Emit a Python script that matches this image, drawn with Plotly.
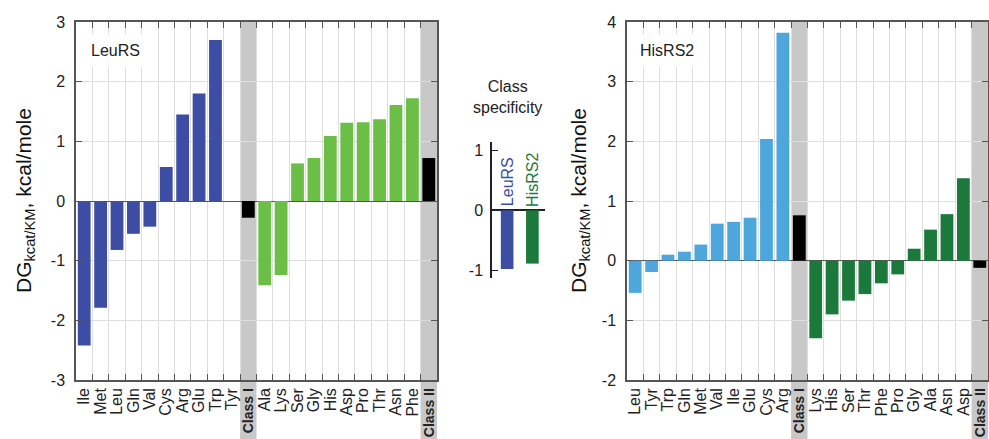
import plotly.graph_objects as go

# ---------------- data ----------------
leurs_class1 = ["Ile", "Met", "Leu", "Gln", "Val", "Cys", "Arg", "Glu", "Trp", "Tyr"]
leurs_class1_vals = [-2.42, -1.79, -0.82, -0.55, -0.43, 0.57, 1.45, 1.80, 2.70, 0.0]
leurs_class1_mean = -0.28
leurs_class2 = ["Ala", "Lys", "Ser", "Gly", "His", "Asp", "Pro", "Thr", "Asn", "Phe"]
leurs_class2_vals = [-1.41, -1.24, 0.63, 0.72, 1.09, 1.31, 1.32, 1.37, 1.61, 1.72]
leurs_class2_mean = 0.72

hisrs_class1 = ["Leu", "Tyr", "Trp", "Gln", "Met", "Val", "Ile", "Glu", "Cys", "Arg"]
hisrs_class1_vals = [-0.54, -0.19, 0.10, 0.15, 0.27, 0.62, 0.65, 0.72, 2.04, 3.82]
hisrs_class1_mean = 0.76
hisrs_class2 = ["Lys", "His", "Ser", "Thr", "Phe", "Pro", "Gly", "Ala", "Asn", "Asp"]
hisrs_class2_vals = [-1.30, -0.90, -0.67, -0.56, -0.38, -0.23, 0.20, 0.52, 0.78, 1.38]
hisrs_class2_mean = -0.12

spec_names = ["LeuRS", "HisRS2"]
spec_vals = [-0.98, -0.89]

left_ticks = [-3, -2, -1, 0, 1, 2, 3]
right_ticks = [-2, -1, 0, 1, 2, 3, 4]
spec_ticks = [-1, 0, 1]

# ---------------- style ----------------
FONT = "Liberation Sans, Arial, sans-serif"
C_BLUE = "#3c4da3"
C_GREEN = "#6bbf46"
C_LBLUE = "#4ea7dc"
C_DGREEN = "#1b7a3b"
C_BAND = "#c8c8c8"
C_AX = "#555555"
C_GRID = "#dedede"

W, H = 989, 439
def px_x(p):
    return p / W
def px_y(p):
    return 1 - p / H

PT = px_y(22)      # plot top
PB = px_y(380)     # plot bottom


def bold(c):
    return f"<span style='font-size:14px'><b>{c}</b></span>"


def build(c1, v1, m1, c2, v2, m2, col1, col2):
    cats = c1 + [bold("Class I")] + c2 + [bold("Class II")]
    vals = v1 + [m1] + v2 + [m2]
    cols = [col1] * len(c1) + ["#000000"] + [col2] * len(c2) + ["#000000"]
    return cats, vals, cols


lc, lv, lcol = build(leurs_class1, leurs_class1_vals, leurs_class1_mean,
                     leurs_class2, leurs_class2_vals, leurs_class2_mean, C_BLUE, C_GREEN)
rc, rv, rcol = build(hisrs_class1, hisrs_class1_vals, hisrs_class1_mean,
                     hisrs_class2, hisrs_class2_vals, hisrs_class2_mean, C_LBLUE, C_DGREEN)

fig = go.Figure()
fig.add_trace(go.Bar(x=lc, y=lv, marker=dict(color=lcol, line=dict(width=0)),
                     width=0.78, xaxis="x", yaxis="y", showlegend=False))
fig.add_trace(go.Bar(x=rc, y=rv, marker=dict(color=rcol, line=dict(width=0)),
                     width=0.78, xaxis="x2", yaxis="y2", showlegend=False))
fig.add_trace(go.Bar(x=spec_names, y=spec_vals,
                     marker=dict(color=[C_BLUE, C_DGREEN], line=dict(width=0)),
                     width=0.5, xaxis="x3", yaxis="y3", showlegend=False))

xcommon = dict(type="category", tickson="boundaries", tickmode="linear", tick0=0, dtick=1,
               showgrid=True, gridcolor=C_GRID, automargin=False, ticklabeloverflow="allow",
               gridwidth=1, ticks="inside", ticklen=6, tickcolor=C_AX, mirror="ticks",
               showline=True, linecolor=C_AX, linewidth=1.5, tickangle=-90,
               tickfont=dict(family=FONT, size=16, color="#222"))
ycommon = dict(showgrid=True, gridcolor=C_GRID, gridwidth=1, ticks="inside",
               ticklen=6, tickcolor=C_AX, mirror="ticks", showline=True, linecolor=C_AX,
               linewidth=1.5, zeroline=True, zerolinecolor=C_AX, zerolinewidth=1.2,
               ticklabelstandoff=6, tickmode="array", automargin=False,
               tickfont=dict(family=FONT, size=16, color="#222"))

fig.update_layout(
    width=W, height=H, margin=dict(l=0, r=0, t=0, b=0, autoexpand=False),
    paper_bgcolor="white", plot_bgcolor="white", bargap=0.2,
    xaxis=dict(xcommon, domain=[px_x(76), px_x(437)], anchor="y",
               categoryorder="array", categoryarray=lc, range=[-0.5, 21.5]),
    yaxis=dict(ycommon, domain=[PB, PT], anchor="x", range=[-3, 3], tickvals=left_ticks,
               ticktext=[str(t) for t in left_ticks]),
    xaxis2=dict(xcommon, domain=[px_x(627), px_x(988)], anchor="y2",
                categoryorder="array", categoryarray=rc, range=[-0.5, 21.5]),
    yaxis2=dict(ycommon, domain=[PB, PT], anchor="x2", range=[-2, 4], tickvals=right_ticks,
                ticktext=[str(t) for t in right_ticks]),
    xaxis3=dict(domain=[px_x(492), px_x(545)], anchor="y3", type="category",
                showticklabels=False, showline=False, showgrid=False, ticks="",
                range=[-0.6, 1.5], automargin=False),
    yaxis3=dict(domain=[px_y(278), px_y(142)], anchor="x3", range=[-1.13, 1.14],
                tickmode="array", tickvals=spec_ticks, ticktext=[str(t) for t in spec_ticks],
                showgrid=False, showline=True, linecolor="#222", automargin=False,
                linewidth=1.5, ticks="inside", ticklen=6, tickcolor="#222",
                zeroline=True, zerolinecolor="#222", zerolinewidth=1.5, ticklabelstandoff=4,
                tickfont=dict(family=FONT, size=16, color="#222")),
)

shapes = []
for xa, idx in (("x", 10), ("x", 21), ("x2", 10), ("x2", 21)):
    shapes.append(dict(type="rect", xref=xa, yref="paper", x0=idx - 0.5, x1=idx + 0.5,
                       y0=0, y1=PT, fillcolor=C_BAND, line=dict(width=0), layer="below"))
fig.update_layout(shapes=shapes)

ann = []
ann.append(dict(text="LeuRS", xref="paper", yref="paper", x=px_x(115), y=px_y(50),
                xanchor="center", yanchor="middle",
                showarrow=False, font=dict(family=FONT, size=16, color="#222"),
                bgcolor="white", borderpad=7))
ann.append(dict(text="HisRS2", xref="paper", yref="paper", x=px_x(667), y=px_y(50),
                xanchor="center", yanchor="middle",
                showarrow=False, font=dict(family=FONT, size=16, color="#222"),
                bgcolor="white", borderpad=7))
title = "DG<sub>kcat/KM</sub>, kcal/mole"
ann.append(dict(text=title, xref="paper", yref="paper", x=px_x(25), y=px_y(201),
                xanchor="center", yanchor="middle",
                textangle=-90, showarrow=False, font=dict(family=FONT, size=21, color="#111")))
ann.append(dict(text=title, xref="paper", yref="paper", x=px_x(580), y=px_y(201),
                xanchor="center", yanchor="middle",
                textangle=-90, showarrow=False, font=dict(family=FONT, size=21, color="#111")))
ann.append(dict(text="Class<br>specificity", xref="paper", yref="paper", x=px_x(508),
                y=px_y(97), xanchor="center", yanchor="middle", showarrow=False,
                font=dict(family=FONT, size=16, color="#222")))
for name, colr in zip(spec_names, [C_BLUE, C_DGREEN]):
    ann.append(dict(text=name, xref="x3", yref="y3", x=name, y=0.03, yanchor="bottom",
                    xanchor="center",
                    textangle=-90, showarrow=False,
                    font=dict(family=FONT, size=16, color=colr)))
fig.update_layout(annotations=ann)

fig.write_html("out.html", config={"displayModeBar": False},
               post_script="document.body.style.margin='0';document.body.style.padding='0';")
